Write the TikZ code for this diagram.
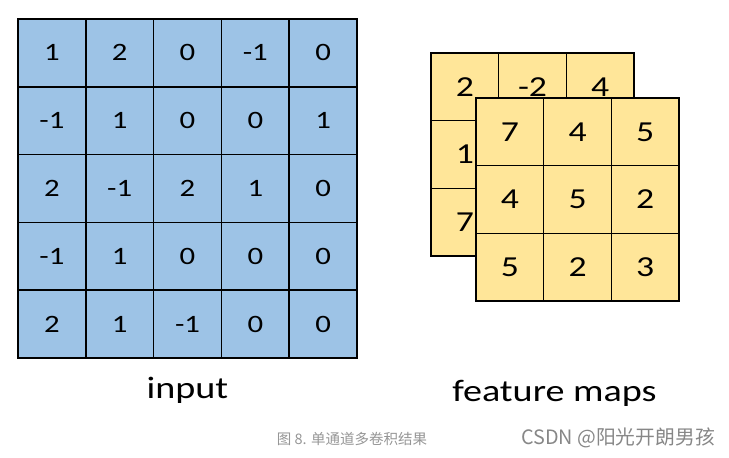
\documentclass[tikz,border=0pt]{standalone}
\usepackage{fontspec}
\setmainfont{Carlito}[Numbers=Lining]
\newfontfamily\widefont{Carlito}[Numbers=Lining, FakeStretch=1.23]
\newfontfamily\cjk{Noto Sans CJK SC}

\definecolor{inblue}{RGB}{157,195,230}
\definecolor{mapyellow}{RGB}{255,230,153}
\definecolor{capgray}{RGB}{150,150,150}

\tikzset{
  incell/.style={draw=black, line width=1.5pt, fill=inblue, minimum size=67.8pt,
    inner sep=0pt, text height=16pt, text depth=0pt, font=\widefont\fontsize{25}{25}\selectfont},
  mapcell/.style={draw=black, line width=1.5pt, fill=mapyellow, minimum size=67.7pt,
    inner sep=0pt, text height=18.5pt, text depth=0pt, font=\widefont\fontsize{29}{29}\selectfont},
  bigword/.style={anchor=base, font=\widefont\fontsize{31}{31}\selectfont}
}

\begin{document}
\begin{tikzpicture}[x=1pt, y=-1pt]

\useasboundingbox (0,0) rectangle (729,458);

% input 5x5
\foreach \row [count=\r] in {{1,2,0,-1,0},{-1,1,0,0,1},{2,-1,2,1,0},{-1,1,0,0,0},{2,1,-1,0,0}}
  \foreach \v [count=\c] in \row
    \node[incell] (in-\r-\c) at ({18+67.8*(\c-0.5)},{19+67.8*(\r-0.5)}) {\v};

% feature map behind
\foreach \row [count=\r] in {{2,-2,4},{1,{},{}},{7,{},{}}}
  \foreach \v [count=\c] in \row
    \node[mapcell] (back-\r-\c) at ({431+67.7*(\c-0.5)},{53+67.7*(\r-0.5)}) {\v};

% feature map in front
\foreach \row [count=\r] in {{7,4,5},{4,5,2},{5,2,3}}
  \foreach \v [count=\c] in \row
    \node[mapcell] (front-\r-\c) at ({476+67.7*(\c-0.5)},{98+67.7*(\r-0.5)}) {\v};

% labels
\node[bigword] (inlabel) at (187.5,398) {input};
\node[bigword] (maplabel) at (554.5,401) {feature maps};

% caption and mark
\node[text=capgray, font=\cjk\fontsize{14.5}{14.5}\selectfont] (caption) at (352,439) {图 8. 单通道多卷积结果};
\node[text=capgray!90!black, font=\cjk\fontsize{19.8}{19.8}\selectfont] (mark) at (618,438) {CSDN @阳光开朗男孩};

\end{tikzpicture}
\end{document}
